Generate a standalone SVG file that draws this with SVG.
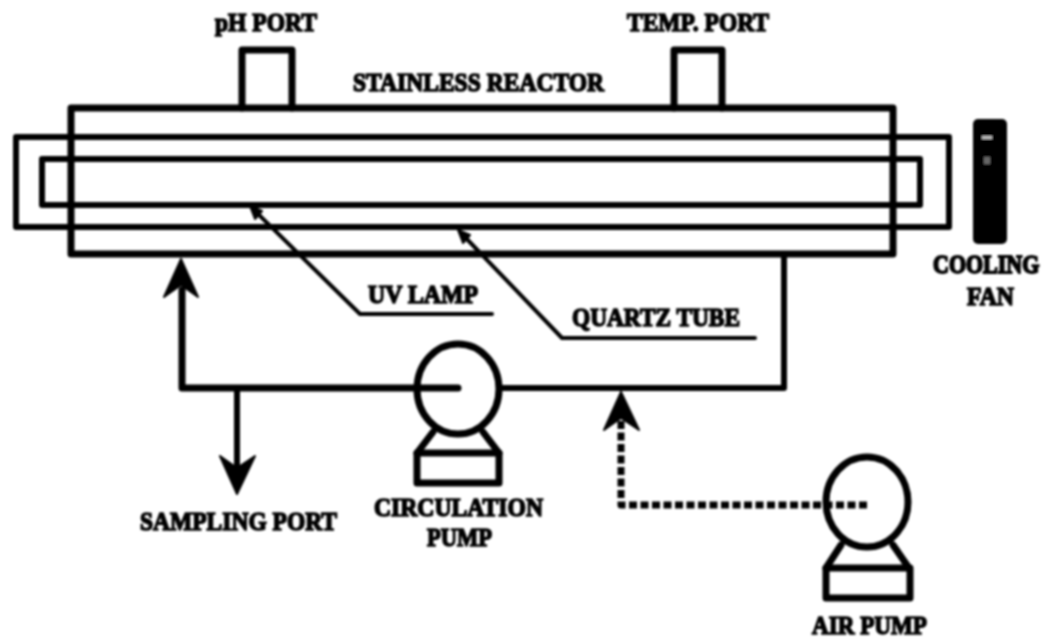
<svg xmlns="http://www.w3.org/2000/svg" width="1044" height="642" viewBox="0 0 1044 642">
<defs>
<filter id="soft" x="0" y="0" width="1044" height="642" filterUnits="userSpaceOnUse"><feGaussianBlur stdDeviation="0.9"/></filter>
<style>
.s{fill:none;stroke:#050505;stroke-linejoin:round;stroke-linecap:round}
.a{fill:#050505;stroke:#050505;stroke-width:2;stroke-linejoin:round}
text{font-family:"Liberation Serif","Times New Roman",serif;font-weight:bold;font-size:26px;fill:#050505;stroke:#050505;stroke-width:1.6}
</style>
</defs>
<rect width="1044" height="642" fill="#fff"/>
<g filter="url(#soft)">
<g id="connectors">
<path class="s" stroke-width="6" d="M784 254V388H502"/>
<path class="s" stroke-width="7" d="M458 388H182V290"/>
<path class="a" d="M181 259L164 297L181 285L198 297Z"/>
<path class="s" stroke-width="6" d="M237 388V465"/>
<path class="a" d="M237 494L220 456L237 468L255 456Z"/>
<path class="s" stroke-width="7" stroke-dasharray="8 3.5" d="M867 505H621V420" style="stroke-linecap:butt"/>
<path class="a" d="M621 392L604 430L621 418L639 430Z"/>
<path class="s" stroke-width="4" d="M254 210L360 314H492"/>
<path class="a" d="M250 206L262 211L255 219Z"/>
<path class="s" stroke-width="4" d="M462 234L562 338H755"/>
<path class="a" d="M458 230L470 235L463 243Z"/>
</g>
<g id="ph-port"><path class="s" stroke-width="7" d="M242 108V50H292V108"/><text x="215" y="31" textLength="102" lengthAdjust="spacingAndGlyphs">pH PORT</text></g>
<g id="temp-port"><path class="s" stroke-width="7" d="M674 108V50H722V108"/><text x="627" y="31" textLength="142" lengthAdjust="spacingAndGlyphs">TEMP. PORT</text></g>
<g id="stainless-reactor"><rect class="s" stroke-width="7" x="71" y="108" width="822" height="146"/><text x="353" y="91" textLength="251" lengthAdjust="spacingAndGlyphs">STAINLESS REACTOR</text></g>
<g id="quartz-tube"><rect class="s" stroke-width="6" x="16" y="137" width="933" height="90"/><text x="572" y="326" textLength="168" lengthAdjust="spacingAndGlyphs">QUARTZ TUBE</text></g>
<g id="uv-lamp"><rect class="s" stroke-width="6" x="42" y="159" width="878" height="46"/><text x="368" y="303" textLength="110" lengthAdjust="spacingAndGlyphs">UV LAMP</text></g>
<g id="cooling-fan"><rect x="973" y="119" width="34" height="125" rx="5" fill="#050505"/><rect x="982" y="136" width="10" height="3" fill="#bbb"/><rect x="984" y="157" width="6" height="7" fill="#666"/><text transform="translate(933 273) scale(1 1.18)" style="font-size:22px">COOLING</text><text x="967" y="305" textLength="47" lengthAdjust="spacingAndGlyphs">FAN</text></g>
<g id="sampling-port"><text x="140" y="530" textLength="197" lengthAdjust="spacingAndGlyphs">SAMPLING PORT</text></g>
<g id="circulation-pump"><ellipse class="s" stroke-width="7" cx="458" cy="389" rx="41" ry="45"/><path class="s" stroke-width="7" d="M433 432L417 453M483 432L499 453"/><rect class="s" stroke-width="7" x="417" y="453" width="82" height="30"/><text x="374" y="516" textLength="169" lengthAdjust="spacingAndGlyphs">CIRCULATION</text><text x="427" y="546" textLength="65" lengthAdjust="spacingAndGlyphs">PUMP</text></g>
<g id="air-pump"><ellipse class="s" stroke-width="7" cx="867" cy="502" rx="41" ry="45"/><path class="s" stroke-width="7" d="M841 545L826 568M893 545L909 568"/><rect class="s" stroke-width="7" x="826" y="568" width="84" height="30"/><text x="812" y="634" textLength="115" lengthAdjust="spacingAndGlyphs">AIR PUMP</text></g>
</g>
</svg>
